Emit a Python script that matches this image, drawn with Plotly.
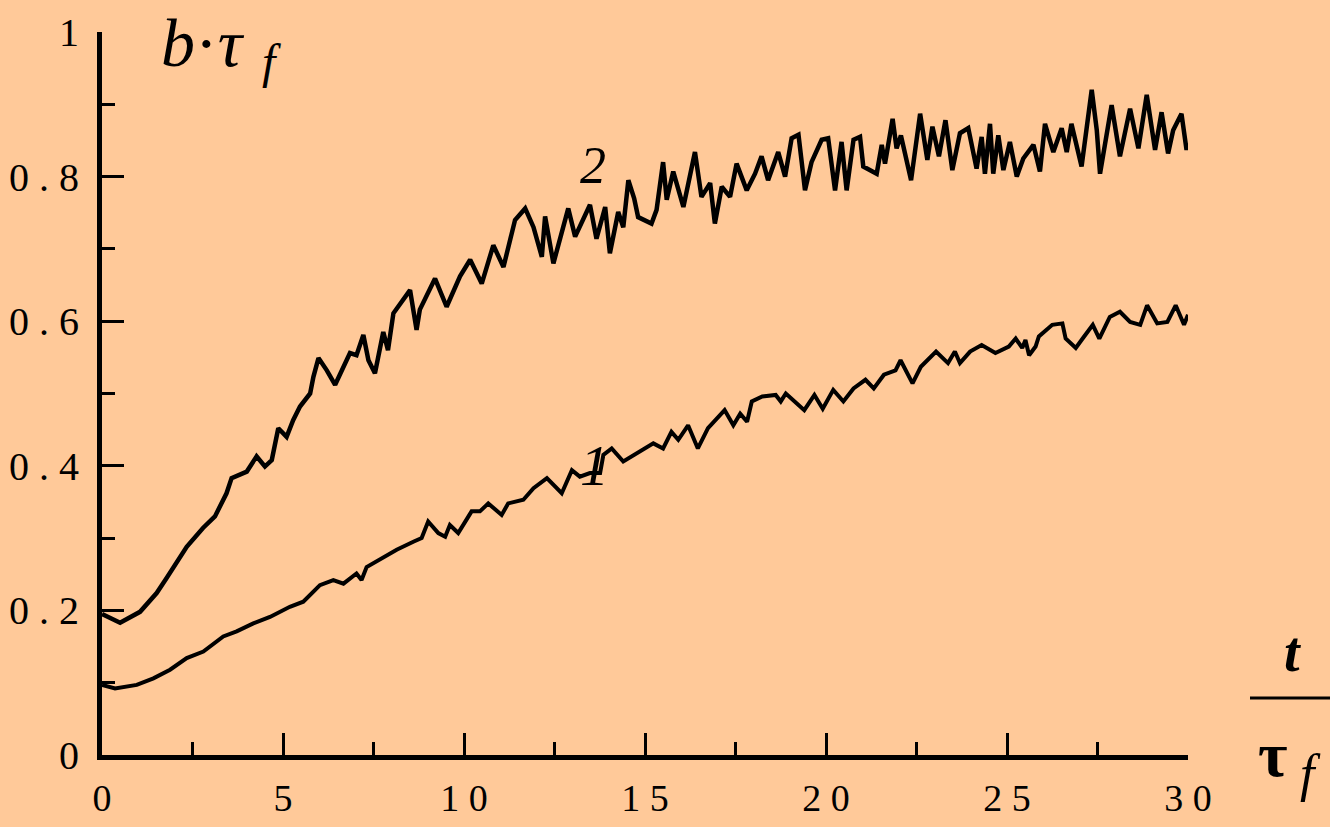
import plotly.graph_objects as go

# Curve 2: b*tau_f versus t/tau_f
t2 = [0.0, 0.5, 1.05, 1.51, 1.79, 2.06, 2.34, 2.79, 3.12, 3.44, 3.58, 4.0, 4.27, 4.5, 4.69,
      4.87, 5.1, 5.28, 5.47, 5.75, 5.84, 5.98, 6.21, 6.44, 6.67, 6.85, 7.03, 7.22, 7.36, 7.54,
      7.77, 7.9, 8.05, 8.51, 8.69, 8.78, 9.2, 9.52, 9.89, 10.17, 10.49, 10.81, 11.09, 11.41,
      11.69, 11.92, 12.15, 12.24, 12.47, 12.88, 13.07, 13.48, 13.66, 13.9, 14.03, 14.26, 14.4,
      14.54, 14.7, 14.81, 15.18, 15.32, 15.5, 15.6, 15.78, 16.06, 16.38, 16.56, 16.8, 16.93,
      17.12, 17.35, 17.53, 17.81, 18.04, 18.22, 18.4, 18.68, 18.87, 19.05, 19.24, 19.42, 19.6,
      19.88, 20.06, 20.25, 20.43, 20.57, 20.76, 20.94, 21.03, 21.4, 21.54, 21.63, 21.84, 21.95,
      22.07, 22.35, 22.6, 22.8, 22.94, 23.12, 23.3, 23.49, 23.7, 23.93, 24.16, 24.3, 24.39,
      24.53, 24.62, 24.76, 24.9, 25.08, 25.27, 25.45, 25.73, 25.91, 26.05, 26.28, 26.51, 26.65,
      26.78, 27.06, 27.34, 27.48, 27.57, 27.8, 27.89, 28.12, 28.4, 28.63, 28.86, 29.09, 29.27,
      29.45, 29.59, 29.82, 29.96, 30.0]
b2 = [0.195, 0.183, 0.198, 0.224, 0.245, 0.265, 0.288, 0.314, 0.33, 0.362, 0.383, 0.392, 0.413,
      0.399, 0.408, 0.452, 0.44, 0.463, 0.482, 0.5, 0.523, 0.549, 0.532, 0.512, 0.537, 0.556,
      0.553, 0.581, 0.546, 0.528, 0.585, 0.56, 0.611, 0.643, 0.588, 0.616, 0.659, 0.62, 0.662,
      0.685, 0.652, 0.705, 0.675, 0.74, 0.756, 0.73, 0.689, 0.745, 0.68, 0.756, 0.717, 0.761,
      0.714, 0.758, 0.694, 0.751, 0.73, 0.795, 0.77, 0.744, 0.735, 0.754, 0.82, 0.768, 0.807,
      0.758, 0.834, 0.772, 0.791, 0.735, 0.786, 0.772, 0.818, 0.781, 0.804, 0.828, 0.795,
      0.834, 0.8, 0.853, 0.858, 0.781, 0.82, 0.851, 0.853, 0.781, 0.848, 0.781, 0.851, 0.855,
      0.814, 0.804, 0.844, 0.818, 0.88, 0.839, 0.857, 0.795, 0.887, 0.823, 0.869, 0.828,
      0.878, 0.809, 0.86, 0.867, 0.811, 0.855, 0.804, 0.873, 0.804, 0.857, 0.809, 0.848,
      0.8, 0.825, 0.844, 0.807, 0.873, 0.834, 0.867, 0.834, 0.873, 0.814, 0.92, 0.864, 0.804,
      0.867, 0.899, 0.828, 0.894, 0.839, 0.913, 0.837, 0.889, 0.832, 0.864, 0.887, 0.837,
      0.846]

# Curve 1
t1 = [0.0, 0.36, 0.96, 1.42, 1.88, 2.34, 2.8, 3.35, 3.72, 4.18, 4.64, 5.19, 5.56, 6.02, 6.39,
      6.67, 7.03, 7.17, 7.31, 7.74, 8.14, 8.6, 8.83, 9.01, 9.29, 9.48, 9.61, 9.84, 10.21,
      10.44, 10.67, 11.04, 11.22, 11.64, 11.92, 12.29, 12.7, 12.98, 13.2, 13.48, 13.76, 13.85,
      14.08, 14.4, 14.77, 15.23, 15.5, 15.73, 15.92, 16.19, 16.46, 16.74, 17.2, 17.44, 17.63,
      17.82, 17.95, 18.24, 18.61, 18.75, 18.89, 19.4, 19.68, 19.91, 20.2, 20.48, 20.76, 21.09,
      21.32, 21.6, 21.92, 22.06, 22.39, 22.62, 23.04, 23.37, 23.56, 23.7, 23.98, 24.3, 24.68,
      25.05, 25.24, 25.42, 25.51, 25.61, 25.79, 25.88, 26.25, 26.53, 26.62, 26.9, 27.09,
      27.37, 27.55, 27.84, 28.12, 28.4, 28.68, 28.87, 29.15, 29.43, 29.66, 29.89, 30.0]
b1 = [0.097, 0.092, 0.097, 0.106, 0.118, 0.134, 0.143, 0.164, 0.171, 0.182, 0.191, 0.205,
      0.212, 0.235, 0.242, 0.237, 0.251, 0.242, 0.26, 0.272, 0.284, 0.295, 0.3, 0.323, 0.307,
      0.302, 0.318, 0.307, 0.337, 0.337, 0.348, 0.332, 0.348, 0.353, 0.369, 0.383, 0.362,
      0.394, 0.385, 0.39, 0.39, 0.415, 0.424, 0.406, 0.417, 0.431, 0.424, 0.447, 0.436, 0.456,
      0.424, 0.452, 0.477, 0.456, 0.472, 0.461, 0.489, 0.496, 0.498, 0.489, 0.5, 0.477, 0.498,
      0.479, 0.505, 0.489, 0.507, 0.519, 0.507, 0.526, 0.532, 0.546, 0.514, 0.537, 0.558,
      0.542, 0.558, 0.542, 0.558, 0.567, 0.556, 0.565, 0.576, 0.563, 0.574, 0.553, 0.565,
      0.579, 0.595, 0.597, 0.576, 0.563, 0.576, 0.595, 0.576, 0.606, 0.613, 0.599, 0.595,
      0.622, 0.597, 0.599, 0.622, 0.595, 0.609]

x_tickvals = [0, 5, 10, 15, 20, 25, 30]
x_ticktext = ["0", "5", "1 0", "1 5", "2 0", "2 5", "3 0"]
y_tickvals = [0, 0.2, 0.4, 0.6, 0.8, 1]
y_ticktext = ["0", "0 . 2", "0 . 4", "0 . 6", "0 . 8", "1"]

BG = "#FFC999"
INK = "black"
SERIF = "Liberation Serif"

fig = go.Figure()
fig.add_trace(go.Scatter(x=t2, y=b2, mode="lines", line=dict(color=INK, width=4.5),
                         showlegend=False, hoverinfo="skip"))
fig.add_trace(go.Scatter(x=t1, y=b1, mode="lines", line=dict(color=INK, width=4),
                         showlegend=False, hoverinfo="skip"))

axis_common = dict(
    showgrid=False, zeroline=False, showline=True, linecolor=INK, linewidth=5,
    ticks="inside", ticklen=22, tickwidth=3, tickcolor=INK, automargin=False,
)
fig.update_xaxes(range=[0, 30], tickvals=x_tickvals, ticktext=x_ticktext,
                 tickfont=dict(family=SERIF, size=38, color=INK),
                 minor=dict(dtick=2.5, ticks="inside", ticklen=13, tickwidth=3,
                            tickcolor=INK, showgrid=False),
                 ticklabelstandoff=5, **axis_common)
fig.update_yaxes(range=[0, 1], tickvals=y_tickvals, ticktext=y_ticktext,
                 tickfont=dict(family=SERIF, size=40, color=INK),
                 minor=dict(dtick=0.1, ticks="inside", ticklen=13, tickwidth=3,
                            tickcolor=INK, showgrid=False),
                 ticklabelstandoff=10, **axis_common)

# pixel helpers for placing text relative to the plotting area
L, R, T, B = 102, 142, 32, 72
W, H = 1330 - L - R, 827 - T - B


def px(x):
    return (x - L) / W


def py(y):
    return (827 - B - y) / H


def label(x, y, text, size, ref="paper"):
    if ref == "paper":
        x, y = px(x), py(y)
    return dict(x=x, y=y, xref=ref if ref == "paper" else "x", yref=ref if ref == "paper" else "y",
                xanchor="center", yanchor="middle", text=text, showarrow=False,
                font=dict(family=SERIF, size=size, color=INK))


annotations = [
    # curve numbers
    label(13.56, 0.815, "<i>2</i>", 52, ref="data"),
    label(13.6, 0.40, "<i>1</i>", 58, ref="data"),
    # y-axis title b·τ_f
    label(203, 43, "<i>b</i>·<i>τ</i>", 68),
    label(271, 62, "<i>f</i>", 48),
    # x-axis title t / τ_f
    label(1292, 652, "<b><i>t</i></b>", 56),
    label(1273, 754, "<b>τ</b>", 64),
    label(1310, 774, "<i>f</i>", 52),
]

fig.update_layout(
    width=1330, height=827,
    margin=dict(l=L, r=R, t=T, b=B, pad=0),
    paper_bgcolor=BG, plot_bgcolor=BG,
    annotations=annotations,
    shapes=[dict(type="line", xref="paper", yref="paper",
                 x0=px(1250), x1=px(1330), y0=py(698), y1=py(698),
                 line=dict(color=INK, width=3))],
)

fig.write_html("out.html")
